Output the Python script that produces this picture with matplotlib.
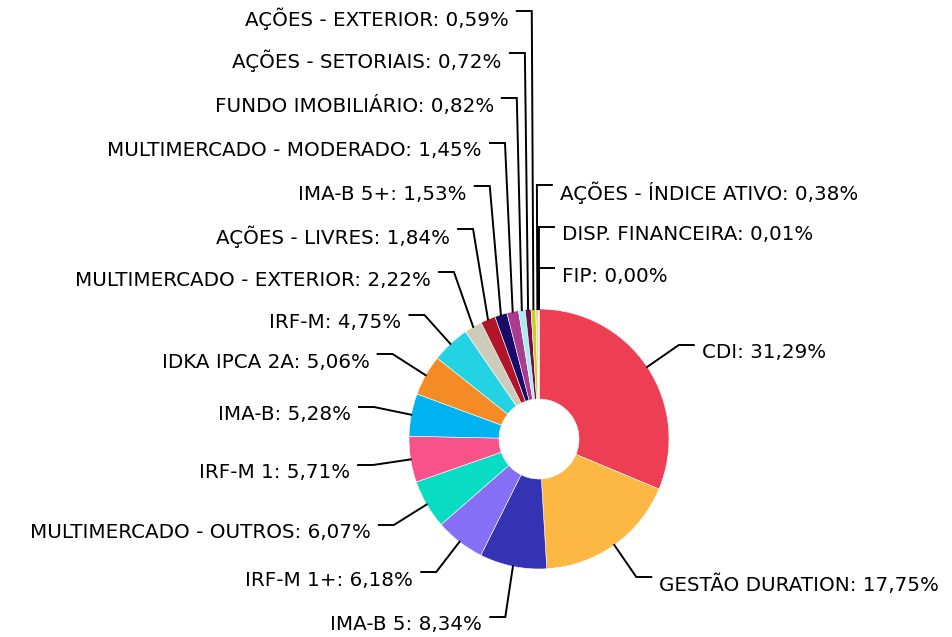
import matplotlib
matplotlib.use('Agg')
import matplotlib.pyplot as plt
import numpy as np

# ── data ──
labels = [
    'CDI', 'GESTÃO DURATION', 'IMA-B 5', 'IRF-M 1+', 'MULTIMERCADO - OUTROS',
    'IRF-M 1', 'IMA-B', 'IDKA IPCA 2A', 'IRF-M', 'MULTIMERCADO - EXTERIOR',
    'AÇÕES - LIVRES', 'IMA-B 5+', 'MULTIMERCADO - MODERADO', 'FUNDO IMOBILIÁRIO',
    'AÇÕES - SETORIAIS', 'AÇÕES - EXTERIOR', 'AÇÕES - ÍNDICE ATIVO',
    'DISP. FINANCEIRA', 'FIP',
]
values = [31.29, 17.75, 8.34, 6.18, 6.07, 5.71, 5.28, 5.06, 4.75, 2.22,
          1.84, 1.53, 1.45, 0.82, 0.72, 0.59, 0.38, 0.01, 0.00]
colors = ['#EE3E54', '#FDB844', '#3333B3', '#846FF5', '#08DDC3', '#F7538A',
          '#01B4F1', '#F58B24', '#23D2E3', '#CDCCBA', '#B0152A', '#180C66',
          '#A93C90', '#A4EEF0', '#730C48', '#C3D22E', '#F9C98E', '#F5A7A0',
          '#E8E8E8']

# ── label layout (pixel rows of the leader line, from top) ──
label_rows = [345, 577, 617, 572, 525, 465, 407, 354, 315, 272,
              229, 186, 143, 98, 53, 11, 185, 227, 268]
label_side = ['R', 'R', 'L', 'L', 'L', 'L', 'L', 'L', 'L', 'L',
              'L', 'L', 'L', 'L', 'L', 'L', 'R', 'R', 'R']

W, H = 952, 637
cx, cy = 539, H - 439
R, HOLE = 130, 40
LEN1, LEN2, GAP = 38, 15, 8

plt.rcParams['font.family'] = ['DejaVu Sans']

fig = plt.figure(figsize=(W / 100, H / 100), dpi=100)
ax = fig.add_axes([0, 0, 1, 1])

wedges, _ = ax.pie(values, colors=colors, startangle=90, counterclock=False,
                   center=(cx, cy), radius=R, normalize=True,
                   wedgeprops=dict(width=R - HOLE, edgecolor='white', linewidth=0.4))
ax.set_xlim(0, W)
ax.set_ylim(0, H)
ax.set_aspect('auto')
ax.axis('off')

for w, lab, val, row, side in zip(wedges, labels, values, label_rows, label_side):
    mid = np.deg2rad((w.theta1 + w.theta2) / 2)
    ex, ey = cx + R * np.cos(mid), cy + R * np.sin(mid)
    bx, by = ex + LEN1 * np.cos(mid), H - row
    sgn = 1 if side == 'R' else -1
    tx = bx + sgn * LEN2
    ax.plot([ex, bx, tx], [ey, by, by], color='black', lw=1.4,
            solid_joinstyle='miter', zorder=3)
    txt = f'{lab}: ' + f'{val:.2f}'.replace('.', ',') + '%'
    ax.text(tx + sgn * GAP, by - 8, txt, fontsize=14.3, color='#000000',
            ha='left' if side == 'R' else 'right', va='center')

fig.savefig('out.png', dpi=100)
